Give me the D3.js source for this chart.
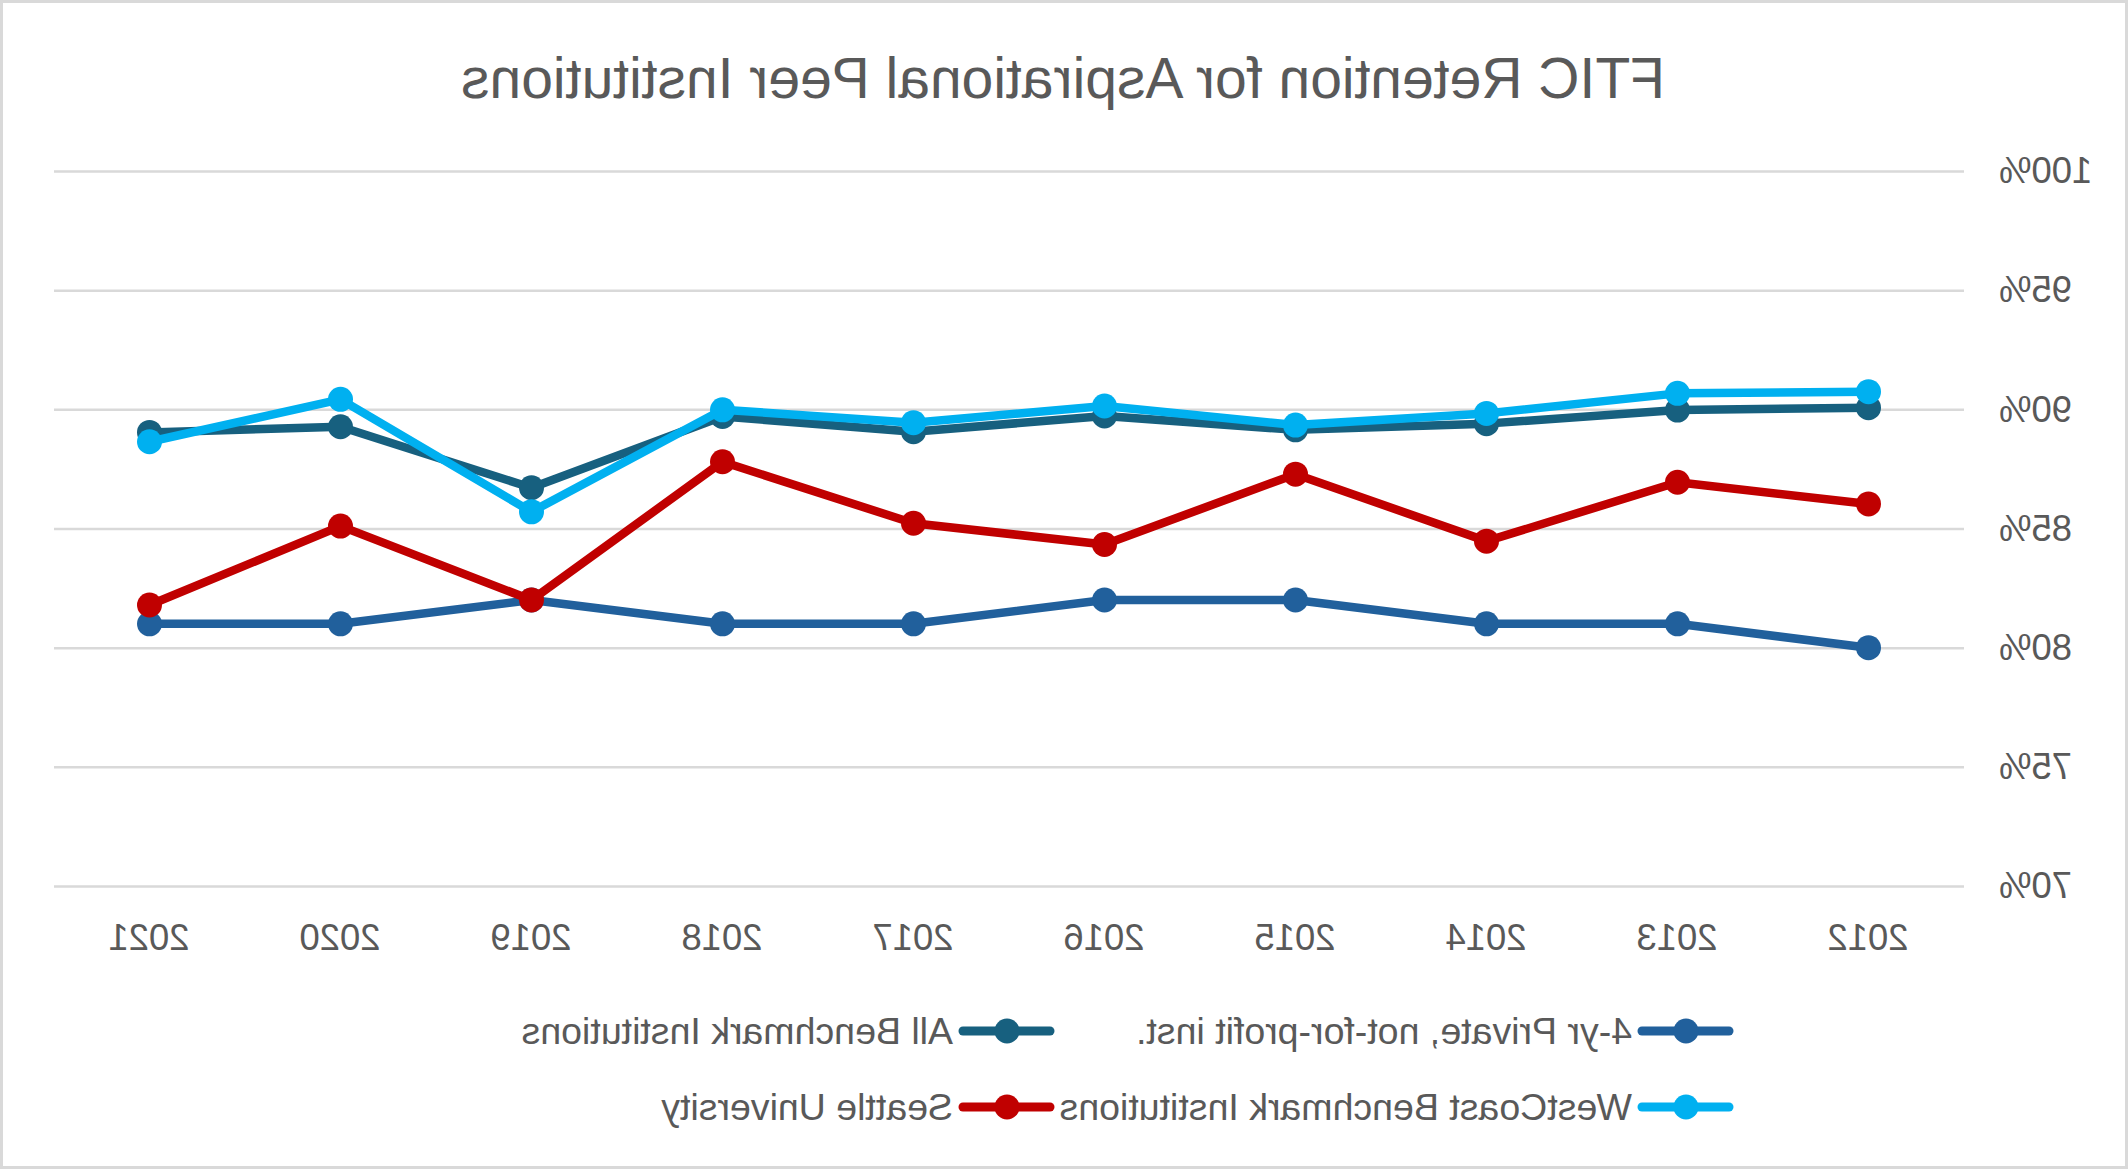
<!DOCTYPE html>
<html>
<head>
<meta charset="utf-8">
<script src="https://cdn.jsdelivr.net/npm/d3@7/dist/d3.min.js"></script>
<style>
html,body{margin:0;padding:0;background:#fff;}
svg{display:block;}
text{font-family:"Liberation Sans",Arial,sans-serif;fill:#595959;}
</style>
</head>
<body>
<script>
const years = ["2012","2013","2014","2015","2016","2017","2018","2019","2020","2021"];
const yTicks = [70,75,80,85,90,95,100];
const seriesNames = ["4-yr Private, not-for-profit inst.","All Benchmark Institutions","WestCoast Benchmark Institutions","Seattle University"];
const seriesColors = ["#21609c","#17607f","#00b0f0","#c00000"];
const privateInst = [80.0,81.0,81.0,82.0,82.0,81.0,81.0,82.0,81.0,81.0];
const allBenchmark = [90.07,89.97,89.4,89.14,89.72,89.06,89.7,86.71,89.27,89.03];
const westCoast = [90.74,90.67,89.83,89.34,90.14,89.44,89.98,85.7,90.42,88.64];
const seattleU = [86.03,86.94,84.47,87.28,84.33,85.22,87.8,82.0,85.1,81.79];
const seriesValues = [privateInst, allBenchmark, westCoast, seattleU];

const W = 2128, H = 1169;
const svg = d3.select("body").append("svg").attr("width", W).attr("height", H);
svg.append("rect").attr("x",1.5).attr("y",1.5).attr("width",W-3).attr("height",H-3)
  .attr("fill","#fff").attr("stroke","#d9d9d9").attr("stroke-width",3);

// whole chart is mirrored horizontally, as in the reference
const g = svg.append("g").attr("transform", `translate(${W},0) scale(-1,1)`);

const x = d3.scalePoint().domain(years).range([164, 2074]).padding(0.5);
const y = d3.scaleLinear().domain([70,100]).range([886,171]);

g.append("text").attr("x", 1065).attr("y", 98).attr("text-anchor","middle")
  .attr("font-size", 57).text("FTIC Retention for Aspirational Peer Institutions");

// gridlines
const yAxis = d3.axisLeft(y).tickValues(yTicks).tickSize(-(2074-164)).tickFormat(d => d + "%");
const ya = g.append("g").attr("transform","translate(164,0)").call(yAxis);
ya.select(".domain").remove();
ya.selectAll(".tick line").attr("stroke","#d9d9d9").attr("stroke-width",2.5);
ya.selectAll(".tick text").attr("x",-35).attr("font-size",36.5).attr("fill","#595959")
  .attr("font-family","Liberation Sans, Arial, sans-serif");

const xAxis = d3.axisBottom(x).tickSize(0);
const xa = g.append("g").attr("transform","translate(0,886)").call(xAxis);
xa.select(".domain").remove();
xa.selectAll(".tick text").attr("dy",0).attr("y",64).attr("font-size",36.5).attr("fill","#595959")
  .attr("font-family","Liberation Sans, Arial, sans-serif");

const line = d3.line().x((d,i) => x(years[i])).y(d => y(d));
seriesValues.forEach((vals, si) => {
  const sg = g.append("g");
  sg.append("path").datum(vals).attr("d", line).attr("fill","none")
    .attr("stroke", seriesColors[si]).attr("stroke-width", 8.5)
    .attr("stroke-linejoin","round").attr("stroke-linecap","round");
  sg.selectAll("circle").data(vals).join("circle")
    .attr("cx",(d,i)=>x(years[i])).attr("cy",d=>y(d)).attr("r",12.5)
    .attr("fill", seriesColors[si]);
});

// legend
const legendPos = [[395,1031],[1074,1031],[395,1107],[1074,1107]];
seriesNames.forEach((name, si) => {
  const [lx, ly] = legendPos[si];
  const lg = g.append("g").attr("transform",`translate(${lx},${ly})`);
  lg.append("line").attr("x1",4).attr("x2",91).attr("y1",0).attr("y2",0)
    .attr("stroke",seriesColors[si]).attr("stroke-width",9).attr("stroke-linecap","round");
  lg.append("circle").attr("cx",47).attr("cy",0).attr("r",12.5).attr("fill",seriesColors[si]);
  lg.append("text").attr("x",101).attr("y",0).attr("dy","0.35em").attr("font-size",37.5).text(name);
});
</script>
</body>
</html>
